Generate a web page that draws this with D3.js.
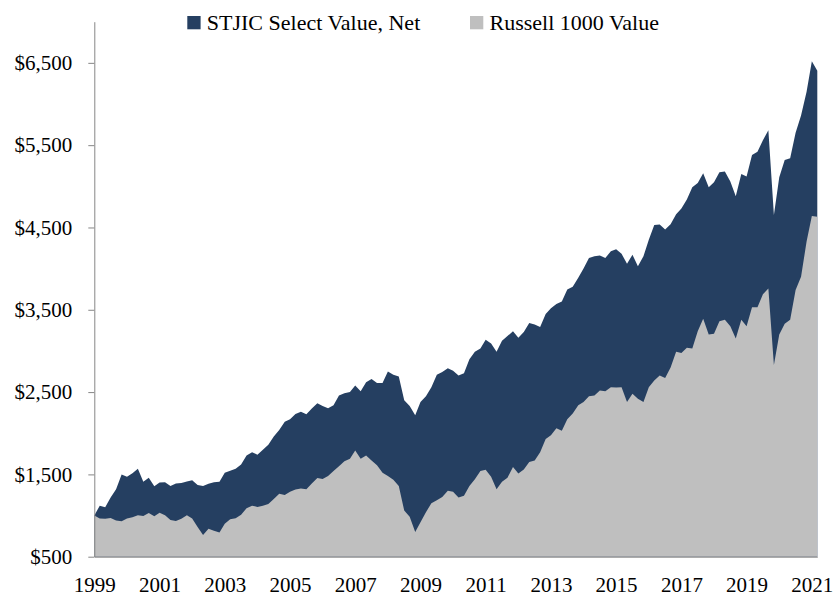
<!DOCTYPE html>
<html>
<head>
<meta charset="utf-8">
<script src="https://cdn.jsdelivr.net/npm/d3@7"></script>
<style>
  body { margin: 0; background: #ffffff; }
  svg text { font-family: "Liberation Serif", "Times New Roman", serif; fill: #000; }
</style>
</head>
<body>
<div id="wrapper"></div>
<script>
// growth of $1,000, one value every two months from Apr 1999
const startMonth = "1999-04"
const stepMonths = 2

const selectValue = [
  1000, 1120, 1100, 1220, 1320, 1500, 1470, 1515, 1570, 1410, 1460, 1355,
  1400, 1405, 1360, 1390, 1395, 1415, 1430, 1370, 1360, 1385, 1404, 1410,
  1520, 1545, 1570, 1620, 1730, 1770, 1740, 1800, 1860, 1960, 2040, 2140,
  2170, 2235, 2260, 2230, 2300, 2365, 2330, 2305, 2340, 2460, 2485, 2500,
  2580, 2510, 2620, 2660, 2610, 2610, 2750, 2710, 2690, 2400, 2330, 2220,
  2380, 2450, 2560, 2710, 2745, 2790, 2760, 2700, 2730, 2900, 2990, 3030,
  3135, 3090, 2990, 3125, 3180, 3240, 3160, 3230, 3340, 3320, 3290, 3450,
  3520, 3570, 3600, 3745, 3780, 3890, 4000, 4130, 4150, 4160, 4130, 4210,
  4235, 4180, 4060, 4170, 4030, 4150, 4350, 4530, 4535, 4475, 4540, 4660,
  4730, 4840, 4990, 5040, 5160, 4990, 5050, 5170, 5180, 5060, 4880, 5150,
  5120, 5380, 5420, 5560, 5680, 4650, 5110, 5320, 5340, 5650, 5860, 6150,
  6520, 6405
]

const russellValue = [
  1000, 965, 960, 970, 940, 930, 965, 980, 1005, 995, 1030, 990,
  1035, 1005, 945, 935, 960, 1005, 965, 860, 765, 840, 815, 795,
  900, 955, 967, 1010, 1090, 1120, 1105, 1120, 1140, 1200, 1265, 1250,
  1290, 1315, 1330, 1320, 1390, 1455, 1445, 1480, 1540, 1600, 1660, 1690,
  1790, 1690, 1730, 1670, 1610, 1520, 1480, 1435, 1360, 1060, 985, 800,
  920, 1040, 1150, 1185, 1225, 1300, 1290, 1220, 1240, 1360, 1440, 1540,
  1555, 1470, 1320, 1410, 1460, 1590, 1510, 1560, 1650, 1670, 1770, 1930,
  1975, 2060, 2030, 2170, 2240, 2340, 2380, 2450, 2460, 2520, 2510, 2560,
  2555, 2560, 2380, 2480, 2420, 2380, 2560, 2640, 2700, 2670, 2800, 2990,
  2975, 3040, 3030, 3240, 3390, 3200, 3210, 3360, 3380, 3300, 3150, 3380,
  3300, 3530, 3530, 3690, 3760, 2830, 3200, 3330, 3380, 3740, 3900, 4330,
  4640, 4630
]

const yTicks = [500, 1500, 2500, 3500, 4500, 5500, 6500]
const xTickYears = ["1999", "2001", "2003", "2005", "2007", "2009", "2011", "2013", "2015", "2017", "2019", "2021"]
const seriesNames = ["STJIC Select Value, Net", "Russell 1000 Value"]
const seriesColors = ["#253f61", "#bfbfbf"]

function drawChart() {
  const start = d3.utcParse("%Y-%m")(startMonth)
  const dataset = selectValue.map((v, i) => ({
    date: d3.utcMonth.offset(start, i * stepMonths),
    select: v,
    russell: russellValue[i],
  }))

  const xAccessor = d => d.date

  let dimensions = {
    width: 833,
    height: 596,
    margin: {
      top: 21.7,
      right: 15.7,
      bottom: 39.3,
      left: 94.3,
    },
  }
  dimensions.boundedWidth = dimensions.width
    - dimensions.margin.left
    - dimensions.margin.right
  dimensions.boundedHeight = dimensions.height
    - dimensions.margin.top
    - dimensions.margin.bottom

  const wrapper = d3.select("#wrapper")
    .append("svg")
      .attr("width", dimensions.width)
      .attr("height", dimensions.height)

  const bounds = wrapper.append("g")
    .attr("transform", `translate(${dimensions.margin.left}, ${dimensions.margin.top})`)

  const xScaler = d3.scaleUtc()
    .domain(d3.extent(dataset, xAccessor))
    .range([0, dimensions.boundedWidth])

  const yScaler = d3.scaleLinear()
    .domain([500, 7000])
    .range([dimensions.boundedHeight, 0])

  // navy first, grey benchmark drawn over it
  const selectArea = d3.area()
    .x(d => xScaler(xAccessor(d)))
    .y0(yScaler(500))
    .y1(d => yScaler(d.select))

  const russellArea = d3.area()
    .x(d => xScaler(xAccessor(d)))
    .y0(yScaler(500))
    .y1(d => yScaler(d.russell))

  bounds.append("path")
    .datum(dataset)
    .attr("d", selectArea)
    .attr("fill", seriesColors[0])

  bounds.append("path")
    .datum(dataset)
    .attr("d", russellArea)
    .attr("fill", seriesColors[1])

  // axes
  const yAxis = bounds.append("g")
    .call(d3.axisLeft(yScaler)
      .tickValues(yTicks)
      .tickSize(6)
      .tickSizeOuter(0)
      .tickPadding(16)
      .tickFormat(d => "$" + d3.format(",")(d)))
  yAxis.selectAll("path, line").attr("stroke", "#868686")
  yAxis.selectAll("text").attr("font-size", "21px")

  const xTicks = xTickYears.map(y => new Date(Date.UTC(+y, start.getUTCMonth(), 1)))
  const xAxis = bounds.append("g")
    .attr("transform", `translate(0, ${dimensions.boundedHeight})`)
    .call(d3.axisBottom(xScaler)
      .tickValues(xTicks)
      .tickSize(0)
      .tickSizeOuter(0)
      .tickPadding(20)
      .tickFormat(d3.utcFormat("%Y")))
  xAxis.select(".domain").attr("stroke", "#868686")
  xAxis.selectAll("text").attr("font-size", "21px")

  // legend
  const legendX = [187.3, 470]
  const legend = wrapper.append("g")
  seriesNames.forEach((name, i) => {
    legend.append("rect")
      .attr("x", legendX[i])
      .attr("y", 16)
      .attr("width", 13.3)
      .attr("height", 13.3)
      .attr("fill", seriesColors[i])
    legend.append("text")
      .attr("x", legendX[i] + 19.5)
      .attr("y", 29.5)
      .attr("font-size", "22px")
      .text(name)
  })
}

drawChart()
</script>
</body>
</html>
